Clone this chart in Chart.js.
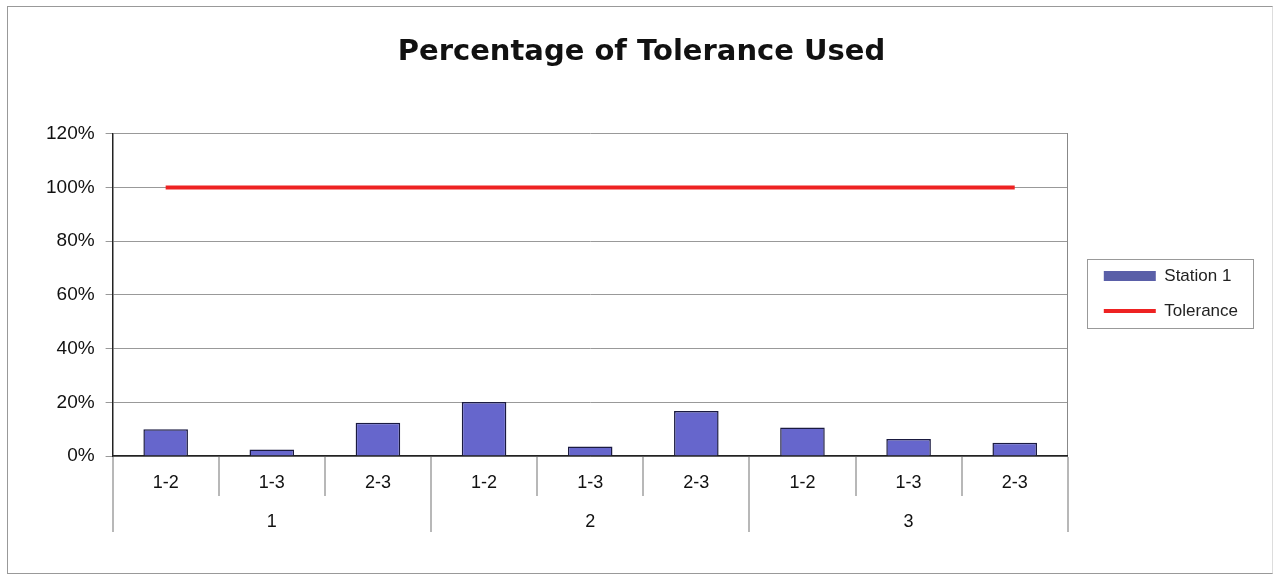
<!DOCTYPE html>
<html>
<head>
<meta charset="utf-8">
<script src="https://cdn.jsdelivr.net/npm/chart.js@4"></script>
<style>
html,body{margin:0;padding:0;background:#fff;}
#box{position:absolute;left:7px;top:6px;width:1264px;height:566px;border:1px solid #999;border-right-color:#ddd;}
</style>
</head>
<body>
<div id="box"><canvas id="chart" width="1264" height="566"></canvas></div>
<script>
// pair labels along the axis, grouped by station
const pairs = ['1-2','1-3','2-3','1-2','1-3','2-3','1-2','1-3','2-3'];
const groups = ['1','2','3'];

const station1 = [0.100,0.024,0.124,0.201,0.035,0.168,0.106,0.063,0.049];
const tolerance = [1,1,1,1,1,1,1,1,1];

const font = "'Liberation Sans', Arial, sans-serif";

// separators under the axis (short between pairs, long between groups) and legend border
const frame = {
id:'frame',
afterDraw(chart){
const ctx=chart.ctx;
const sx=chart.scales.x;
const sx2=chart.scales.x2;
const n=pairs.length;
const per=n/groups.length;
const w=(sx.right-sx.left)/n;
ctx.save();
ctx.strokeStyle='#a0a0a0';
ctx.lineWidth=1.5;
for(let i=0;i<=n;i++){
const x=Math.round(sx.left+i*w);
const bottom=(i%per===0)?sx2.bottom-4:sx.bottom-10;
ctx.beginPath();
ctx.moveTo(x,sx.top+1);
ctx.lineTo(x,bottom);
ctx.stroke();
}

const hb=chart.legend.legendHitBoxes;
if(hb && hb.length){
let l=Infinity,t=Infinity,r=-Infinity,b=-Infinity;
hb.forEach(h=>{
l=Math.min(l,h.left);t=Math.min(t,h.top);
r=Math.max(r,h.left+h.width);b=Math.max(b,h.top+h.height);
});
ctx.strokeStyle='#999';
ctx.lineWidth=1;
ctx.strokeRect(Math.round(l-17)+0.5,Math.round(t-9)+0.5,Math.round(r-l+32),Math.round(b-t+17));
}
ctx.restore();
}
};

new Chart(document.getElementById('chart'),{
type:'bar',
data:{
labels:pairs,
datasets:[
{
label:'Station 1',
data:station1,
backgroundColor:'#6666cc',
borderColor:'#1a1a40',
borderWidth:1.5,
barPercentage:0.42,
categoryPercentage:1
},
{
type:'line',
label:'Tolerance',
data:tolerance,
borderColor:'#ee2222',
backgroundColor:'#ee2222',
borderWidth:4,
pointRadius:0,
fill:false
}
]
},
plugins:[frame],
options:{
responsive:false,
animation:false,
layout:{padding:{left:27,right:24,top:0,bottom:37}},
plugins:{
title:{
display:true,
text:'Percentage of Tolerance Used',
color:'#111',
font:{family:"'DejaVu Sans', sans-serif",size:29,weight:'bold'},
padding:{top:28,bottom:64}
},
tooltip:{enabled:false},
legend:{
position:'right',
title:{display:true,text:' ',font:{size:10},padding:16},
labels:{
color:'#222',
font:{family:font,size:17},
usePointStyle:true,
pointStyleWidth:52,
boxHeight:10,
padding:18,
generateLabels(chart){
const items=Chart.defaults.plugins.legend.labels.generateLabels(chart);
items[0].pointStyle='rect';
items[0].lineWidth=0;
items[0].fillStyle='#5a5fa8';
items[1].pointStyle='line';
items[1].lineWidth=4;
return items;
}
}
}
},
scales:{
y:{
min:0,
max:1.2,
ticks:{
stepSize:0.2,
color:'#111',
font:{family:font,size:19},
padding:11,
callback:v=>Math.round(v*100)+'%'
},
grid:{color:'#999',tickLength:7},
border:{color:'#222',width:1.5}
},
yR:{
type:'linear',
position:'right',
min:0,
max:1.2,
grid:{display:false},
ticks:{display:false},
border:{color:'#888',width:1},
afterFit(s){s.width=18;}
},
x:{
weight:0,
offset:true,
grid:{offset:true,drawOnChartArea:false,drawTicks:false},
border:{color:'#222',width:1.5},
ticks:{
color:'#111',
font:{family:font,size:18},
padding:16,
autoSkip:false,
maxRotation:0
},
afterFit(s){s.height=50;}
},
x2:{
type:'category',
labels:groups,
position:'bottom',
weight:1,
offset:true,
grid:{display:false,drawTicks:false},
border:{display:false},
ticks:{
color:'#111',
font:{family:font,size:18},
padding:5,
maxRotation:0
},
afterFit(s){s.height=30;}
}
}
}
});
</script>
</body>
</html>
